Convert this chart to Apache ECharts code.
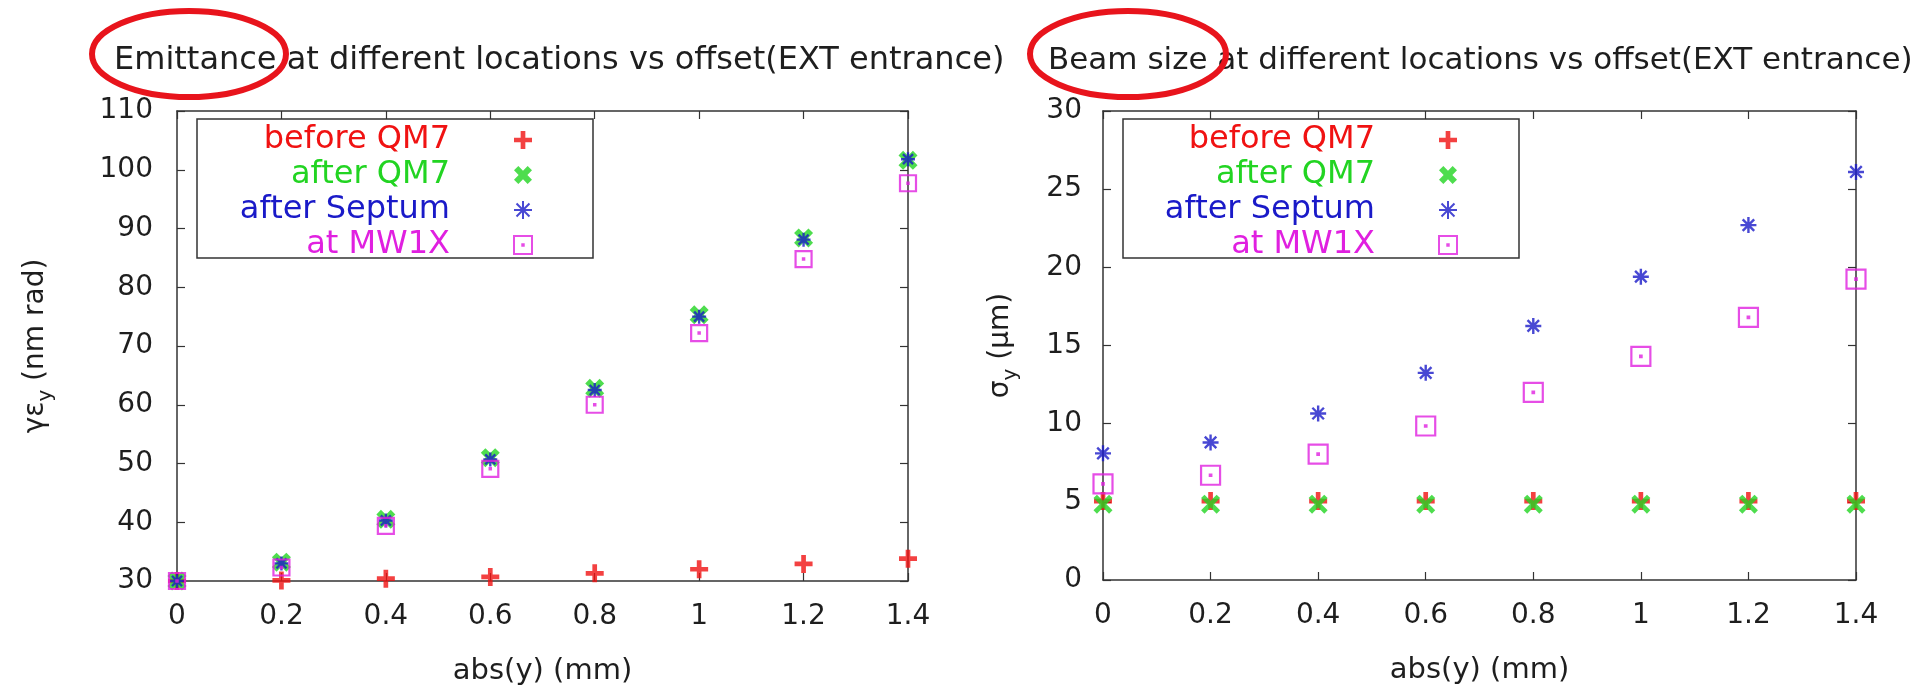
<!DOCTYPE html>
<html>
<head>
<meta charset="utf-8">
<style>
html,body{margin:0;padding:0;background:#fff;}
#chart{width:1930px;height:687px;}
</style>
<script src="https://cdn.jsdelivr.net/npm/echarts@6/dist/echarts.min.js"></script>
</head>
<body>
<div id="chart"></div>
<script>
// ---------- data ----------
const offsets = [0, 0.2, 0.4, 0.6, 0.8, 1.0, 1.2, 1.4];
const seriesNames = ['before QM7', 'after QM7', 'after Septum', 'at MW1X'];

// Emittance (nm rad)
const emitBeforeQM7 = [30.0, 30.1, 30.4, 30.7, 31.3, 32.0, 32.9, 33.8];
const emitAfterQM7 = [30.0, 33.2, 40.5, 51.0, 62.8, 75.3, 88.4, 101.6];
const emitAfterSeptum = [30.0, 33.0, 40.3, 50.7, 62.5, 75.0, 88.1, 101.8];
const emitMW1X = [30.0, 32.3, 39.4, 49.1, 60.0, 72.2, 84.8, 97.7];

// Beam size (um)
const sizeBeforeQM7 = [5.05, 5.05, 5.05, 5.05, 5.05, 5.05, 5.05, 5.05];
const sizeAfterQM7 = [4.85, 4.85, 4.85, 4.85, 4.85, 4.85, 4.85, 4.85];
const sizeAfterSeptum = [8.1, 8.8, 10.65, 13.25, 16.25, 19.4, 22.7, 26.1];
const sizeMW1X = [6.15, 6.7, 8.05, 9.85, 12.0, 14.3, 16.8, 19.25];

const titles = ['Emittance at different locations vs offset(EXT entrance)',
                'Beam size at different locations vs offset(EXT entrance)'];
const xName = 'abs(y) (mm)';
const yNames = ['{a|γε}{s|y}{a| (nm rad)}', '{a|σ}{s|y}{a| (μm)}'];

// ---------- styling ----------
const FONT = '"DejaVu Sans", "Liberation Sans", Arial, sans-serif';
const colors = ['#f01212', '#22d422', '#1a1ac8', '#e020e0'];
const AX = '#333';
const TXT = '#1e1e1e';

function plusPts(t) {
  return [[-1,-t],[-t,-t],[-t,-1],[t,-1],[t,-t],[1,-t],[1,t],[t,t],[t,1],[-t,1],[-t,t],[-1,t]];
}
function polyPath(pts) {
  return 'path://' + pts.map((p, i) => (i ? 'L' : 'M') + p[0].toFixed(4) + ',' + p[1].toFixed(4)).join('') + 'Z';
}
function plusPath(t) { return polyPath(plusPts(t)); }
function crossPath(t) {
  const c = Math.SQRT1_2;
  return polyPath(plusPts(t).map(p => [(p[0] - p[1]) * c, (p[0] + p[1]) * c]));
}
const asteriskPath = 'path://M-1,0L1,0M0,-1L0,1M-0.72,-0.72L0.72,0.72M-0.72,0.72L0.72,-0.72';
const squarePath = 'path://M-1,-1H1V1H-1ZM-0.08,-0.08H0.08V0.08H-0.08Z';

function pairs(ys) { return offsets.map((x, i) => [x, ys[i]]); }

const grids = [
  {left: 177, top: 111, width: 731, height: 470, outerBoundsMode: 'none', containLabel: false},
  {left: 1103, top: 111, width: 753, height: 469, outerBoundsMode: 'none', containLabel: false}
];

const yRanges = [{min: 30, max: 110, interval: 10}, {min: 0, max: 30, interval: 5}];

const xAxes = [], yAxes = [];
[0, 1].forEach(g => {
  const tick = {show: true, inside: true, length: 8, lineStyle: {color: AX, width: 1.2}};
  xAxes.push({
    type: 'value', gridIndex: g, min: 0, max: 1.4, interval: 0.2, position: 'bottom',
    name: xName, nameLocation: 'middle', nameGap: 76,
    nameTextStyle: {fontFamily: FONT, fontSize: 29, color: TXT},
    axisLine: {show: true, onZero: false, lineStyle: {color: AX, width: 1.5}},
    axisTick: tick, splitLine: {show: false},
    axisLabel: {margin: 22, fontFamily: FONT, fontSize: 28, color: TXT,
      formatter: v => String(+v.toFixed(1))}
  });
  xAxes.push({
    type: 'value', gridIndex: g, min: 0, max: 1.4, interval: 0.2, position: 'top',
    axisLine: {show: true, onZero: false, lineStyle: {color: AX, width: 1.5}},
    axisTick: tick, axisLabel: {show: false}, splitLine: {show: false}
  });
  yAxes.push({
    type: 'value', gridIndex: g, min: yRanges[g].min, max: yRanges[g].max, interval: yRanges[g].interval,
    position: 'left',
    name: yNames[g], nameLocation: 'middle', nameRotate: 90, nameGap: g === 0 ? 121 : 82,
    nameTextStyle: {fontFamily: FONT, color: TXT,
      rich: {a: {fontFamily: FONT, fontSize: 28, color: TXT, lineHeight: 40},
             s: {fontFamily: FONT, fontSize: 20, color: TXT, lineHeight: 20, verticalAlign: 'bottom'}}},
    axisLine: {show: true, onZero: false, lineStyle: {color: AX, width: 1.5}},
    axisTick: tick, splitLine: {show: false},
    axisLabel: {margin: g === 0 ? 24 : 21, fontFamily: FONT, fontSize: 28, color: TXT}
  });
  yAxes.push({
    type: 'value', gridIndex: g, min: yRanges[g].min, max: yRanges[g].max, interval: yRanges[g].interval,
    position: 'right',
    axisLine: {show: true, onZero: false, lineStyle: {color: AX, width: 1.5}},
    axisTick: tick, axisLabel: {show: false}, splitLine: {show: false}
  });
});

function mkSeries(g, name, ys, kind, size) {
  const s = {
    type: 'scatter', name: name, xAxisIndex: g * 2, yAxisIndex: g * 2,
    data: pairs(ys), symbolSize: size, emphasis: {disabled: true}, silent: true
  };
  const c = colors[seriesNames.indexOf(name)];
  if (kind === 'plus') { s.symbol = plusPath(0.26); s.itemStyle = {color: c}; }
  if (kind === 'xbold') { s.symbol = crossPath(0.32); s.itemStyle = {color: c}; }
  if (kind === 'x') { s.symbol = crossPath(0.22); s.itemStyle = {color: c}; }
  if (kind === 'ast') { s.symbol = asteriskPath; s.itemStyle = {color: 'transparent', borderColor: c, borderWidth: 2.4}; }
  if (kind === 'sq') { s.symbol = squarePath; s.itemStyle = {color: 'transparent', borderColor: c, borderWidth: 2.2}; }
  return s;
}

const series = [
  mkSeries(0, seriesNames[0], emitBeforeQM7, 'plus', 18),
  mkSeries(0, seriesNames[1], emitAfterQM7, 'xbold', 19),
  mkSeries(0, seriesNames[2], emitAfterSeptum, 'ast', 14),
  mkSeries(0, seriesNames[3], emitMW1X, 'sq', 16),
  mkSeries(1, seriesNames[0], sizeBeforeQM7, 'plus', 18),
  mkSeries(1, seriesNames[1], sizeAfterQM7, 'x', 19),
  mkSeries(1, seriesNames[2], sizeAfterSeptum, 'ast', 16),
  mkSeries(1, seriesNames[3], sizeMW1X, 'sq', 19)
];

function mkLegend(rightPx) {
  return {
    orient: 'vertical', align: 'right', right: rightPx, top: 124, padding: 0,
    itemWidth: 136, itemHeight: 18, itemGap: 3,
    selectedMode: false,
    data: seriesNames.map((n, i) => ({name: n, textStyle: {color: colors[i]}})),
    textStyle: {fontFamily: FONT, fontSize: 32, lineHeight: 29}
  };
}

const option = {
  animation: false,
  backgroundColor: '#fff',
  title: [
    {text: titles[0], left: 114, top: 45, padding: 0,
     textStyle: {fontFamily: FONT, fontSize: 32, fontWeight: 'normal', color: TXT}},
    {text: titles[1], left: 1048, top: 45, padding: 0,
     textStyle: {fontFamily: FONT, fontSize: 31, fontWeight: 'normal', color: TXT}}
  ],
  grid: grids,
  xAxis: xAxes,
  yAxis: yAxes,
  legend: [mkLegend(1397), mkLegend(472)],
  series: series,
  graphic: [
    {type: 'rect', shape: {x: 197, y: 119, width: 396, height: 139}, silent: true,
     style: {fill: 'transparent', stroke: AX, lineWidth: 1.5}, z: 1},
    {type: 'rect', shape: {x: 1123, y: 119, width: 396, height: 139}, silent: true,
     style: {fill: 'transparent', stroke: AX, lineWidth: 1.5}, z: 1},
    {type: 'ellipse', shape: {cx: 189, cy: 54, rx: 97, ry: 43}, silent: true,
     style: {fill: 'transparent', stroke: '#e8141c', lineWidth: 6}, z: 100},
    {type: 'ellipse', shape: {cx: 1128, cy: 54, rx: 98, ry: 43}, silent: true,
     style: {fill: 'transparent', stroke: '#e8141c', lineWidth: 6}, z: 100}
  ]
};

const chart = echarts.init(document.getElementById('chart'), null, {renderer: 'canvas'});
chart.setOption(option);
</script>
</body>
</html>
